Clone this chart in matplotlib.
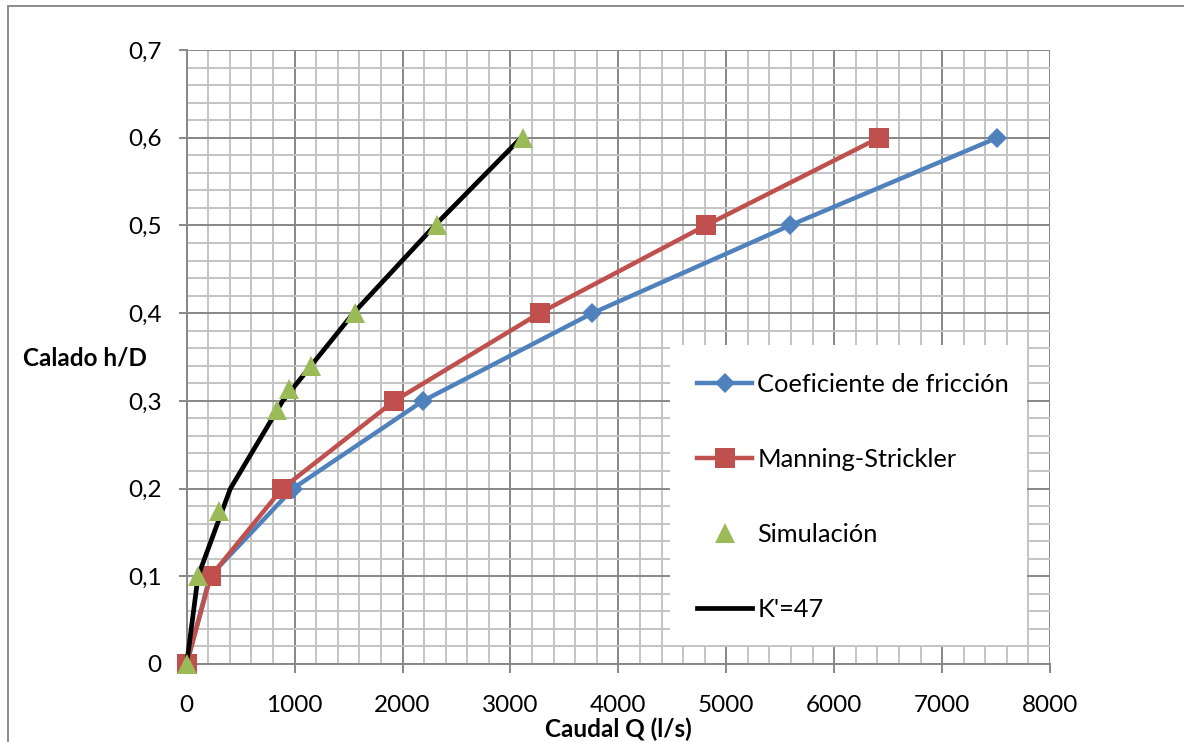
import matplotlib
matplotlib.use("Agg")
import matplotlib.pyplot as plt
from matplotlib.ticker import MultipleLocator, FuncFormatter
from matplotlib.patches import Rectangle
from matplotlib.lines import Line2D

plt.rcParams['font.family'] = ['Lato', 'DejaVu Sans']

# Relative depth h/D for the computed curves
h_calc = [0.0, 0.1, 0.2, 0.3, 0.4, 0.5, 0.6]
# Discharge Q (l/s) by friction-coefficient method
q_friccion = [0, 215, 985, 2190, 3760, 5590, 7512]
# Discharge Q (l/s) by Manning-Strickler
q_manning = [0, 222, 885, 1925, 3270, 4810, 6417]
# Discharge Q (l/s) with K'=47
q_k47 = [0, 105, 405, 890, 1545, 2300, 3100]

# Simulated points
h_sim = [0.0, 0.1, 0.175, 0.29, 0.313, 0.34, 0.4, 0.5, 0.6]
q_sim = [0, 105, 295, 840, 950, 1155, 1555, 2320, 3115]

labels = ["Coeficiente de fricción", "Manning-Strickler", "Simulación", "K'=47"]

W, H = 1184, 742
fig = plt.figure(figsize=(W / 100, H / 100), dpi=100)
ax = fig.add_axes([186.7 / W, 1 - 664 / H, (1050 - 186.7) / W, (664 - 50) / H])

blue = '#4F81BD'
red = '#C0504D'
green = '#9BBB59'

ax.plot(q_friccion, h_calc, color=blue, lw=3.2, marker='D', ms=10,
        markeredgewidth=0, zorder=5, clip_on=False)
ax.plot(q_manning, h_calc, color=red, lw=3.2, marker='s', ms=14,
        markeredgewidth=0, zorder=6, clip_on=False)
ax.plot(q_k47, h_calc, color='black', lw=3.4, zorder=7, clip_on=False)
ax.plot(q_sim, h_sim, linestyle='none', marker='^', ms=14, color=green,
        markeredgewidth=0, zorder=8, clip_on=False)

ax.set_xlim(0, 8000)
ax.set_ylim(0, 0.7)
ax.xaxis.set_major_locator(MultipleLocator(1000))
ax.xaxis.set_minor_locator(MultipleLocator(200))
ax.yaxis.set_major_locator(MultipleLocator(0.1))
ax.yaxis.set_minor_locator(MultipleLocator(0.02))
ax.yaxis.set_major_formatter(FuncFormatter(
    lambda v, p: "0" if abs(v) < 1e-9 else f"{v:.1f}".replace('.', ',')))

ax.grid(which='major', color='#878787', lw=1.4, zorder=1)
ax.grid(which='minor', color='#C4C4C4', lw=1.4, zorder=0.5)
ax.set_axisbelow(True)

for side in ('top', 'right'):
    ax.spines[side].set_visible(False)
for side in ('left', 'bottom'):
    ax.spines[side].set_color('#878787')
    ax.spines[side].set_linewidth(1.4)

ax.tick_params(which='major', axis='x', direction='out', length=6.5, width=1.4,
               color='#878787', labelsize=17.5, pad=15.5)
ax.tick_params(which='major', axis='y', direction='out', length=6, width=1.4,
               color='#878787', labelsize=17.5, pad=12)
ax.tick_params(which='minor', length=0)

fig.text(618 / W, 1 - 729 / H, "Caudal Q (l/s)", ha='center', va='center',
         fontsize=17.5, fontweight='bold')
fig.text(85 / W, 1 - 358 / H, "Calado h/D", ha='center', va='center',
         fontsize=17.5, fontweight='bold')

# White legend panel
x0 = (670 - 186.7) / 863.3
x1 = (1027 - 186.7) / 863.3
y0 = (664 - 645) / 614
y1 = (664 - 345) / 614
ax.add_patch(Rectangle((x0, y0), x1 - x0, y1 - y0, transform=ax.transAxes,
                       facecolor='white', edgecolor='none', zorder=3))

handles = [
    Line2D([], [], color=blue, lw=3.2, marker='D', ms=10, markeredgewidth=0),
    Line2D([], [], color=red, lw=3.2, marker='s', ms=14, markeredgewidth=0),
    Line2D([], [], linestyle='none', marker='^', ms=14, color=green, markeredgewidth=0),
    Line2D([], [], color='black', lw=3.4),
]
leg = ax.legend(handles, labels, loc='upper left',
                bbox_to_anchor=((697 - 186.7) / 863.3, (664 - 373) / 614),
                frameon=False, fontsize=18.3, handlelength=2.17, handletextpad=0.2,
                labelspacing=2.05, borderpad=0, borderaxespad=0)
leg.set_zorder(4)

# Chart area border
fig.add_artist(Rectangle((8 / W, -0.1), 1.2, 1 - 6 / H + 0.1, transform=fig.transFigure,
                         facecolor='none', edgecolor='#8C8C8C', lw=1.4))

fig.savefig("out.png", dpi=100)
